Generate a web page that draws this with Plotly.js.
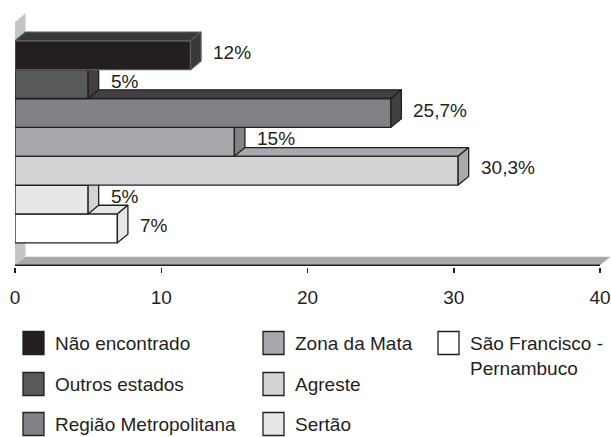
<!DOCTYPE html>
<html><head><meta charset="utf-8">
<script src="https://cdn.plot.ly/plotly-3.0.1.min.js"></script>
<style>html,body{margin:0;padding:0;background:#fff;}#chart{width:611px;height:437px;}</style>
</head><body><div id="chart"></div>
<script>
// ---- data ----
const categories = ['Não encontrado', 'Outros estados', 'Região Metropolitana', 'Zona da Mata', 'Agreste', 'Sertão', 'São Francisco - Pernambuco'];
const legendNames = ['Não encontrado', 'Outros estados', 'Região Metropolitana', 'Zona da Mata', 'Agreste', 'Sertão', 'São Francisco -<br>Pernambuco'];
const values = [12, 5, 25.7, 15, 30.3, 5, 7];
const valueLabels = ['12%', '5%', '25,7%', '15%', '30,3%', '5%', '7%'];
const xTickValues = [0, 10, 20, 30, 40];

// ---- style ----
const frontColors = ['#231f20', '#58595b', '#808285', '#a7a9ac', '#d1d3d4', '#e6e7e8', '#ffffff'];
const sideColors  = ['#39373a', '#414042', '#414042', '#808285', '#a7a9ac', '#d1d3d4', '#e6e7e8'];
const edgeColors  = ['#58595b', '#231f20', '#231f20', '#231f20', '#231f20', '#231f20', '#231f20'];
const FONT = 'Arial';
const W = 611, H = 437, ML = 15, MR = 0, MT = 10, MB = 170;
const dx = 0.72, dy = 0.3;           // 3D depth in axis units
const xMax = 40;
const floorY = -1.28;                // front floor line (y units)
const yRange = [-1.339, 7.566];
const xRange = [0, 40.752];
const wallTop = 7.15;

const n = values.length;
const traces = [];
const noHover = {hoverinfo: 'skip', showlegend: false};

// back wall + floor
traces.push(Object.assign({type: 'scatter', mode: 'lines', fill: 'toself',
  x: [0, xMax, xMax + dx, dx, 0], y: [floorY, floorY, floorY + dy, floorY + dy, floorY],
  fillcolor: '#a7a9ac', line: {width: 0}}, noHover));
traces.push(Object.assign({type: 'scatter', mode: 'lines', fill: 'toself',
  x: [0, dx, dx, 0, 0], y: [floorY, floorY + dy, wallTop + dy, wallTop, floorY],
  fillcolor: '#c2c4c6', line: {width: 0}}, noHover));

// bars, bottom row first so upper rows cover hidden faces
for (let k = n - 1; k >= 0; k--) {
  const v = values[k];
  const yc = n - 1 - k;
  const y0 = yc - 0.5, y1 = yc + 0.5;
  const edge = {color: edgeColors[k], width: 1.3};
  traces.push(Object.assign({type: 'scatter', mode: 'lines', fill: 'toself', name: categories[k],
    x: [0, v, v, 0, 0], y: [y0, y0, y1, y1, y0], fillcolor: frontColors[k], line: edge}, noHover));
  traces.push(Object.assign({type: 'scatter', mode: 'lines', fill: 'toself',
    x: [0, v, v + dx, dx, 0], y: [y1, y1, y1 + dy, y1 + dy, y1], fillcolor: sideColors[k], line: edge}, noHover));
  traces.push(Object.assign({type: 'scatter', mode: 'lines', fill: 'toself',
    x: [v, v + dx, v + dx, v, v], y: [y1, y1 + dy, y0 + dy, y0, y1], fillcolor: sideColors[k], line: edge}, noHover));
}

const annotations = [];
for (let k = 0; k < n; k++) {
  annotations.push({x: values[k] + dx, y: n - 1 - k + 0.1, xref: 'x', yref: 'y', text: valueLabels[k],
    showarrow: false, xanchor: 'left', yanchor: 'middle', xshift: 10,
    font: {family: FONT, size: 19, color: '#231f20'}});
}

// manual legend (3 columns)
const pw = W - ML - MR, ph = H - MT - MB;
const px2x = p => (p - ML) / pw;
const py2y = p => (H - MB - p) / ph;
const colX = [23, 263, 438];
const rowY = [343, 384, 424];
const legendSlots = [[0, 0], [0, 1], [0, 2], [1, 0], [1, 1], [1, 2], [2, 0]];
const shapes = [];
for (let k = 0; k < n; k++) {
  const [c, r] = legendSlots[k];
  const sx = colX[c], sy = rowY[r];
  shapes.push({type: 'rect', xref: 'paper', yref: 'paper',
    x0: px2x(sx), x1: px2x(sx + 21), y0: py2y(sy - 11.5), y1: py2y(sy + 11.5),
    fillcolor: frontColors[k], line: {color: '#231f20', width: 1.3}});
  const multi = legendNames[k].indexOf('<br>') >= 0;
  annotations.push({xref: 'paper', yref: 'paper', x: px2x(sx + 30), y: py2y(multi ? sy - 12 : sy),
    text: legendNames[k], showarrow: false, xanchor: 'left', yanchor: multi ? 'top' : 'middle', align: 'left',
    font: {family: FONT, size: 19, color: '#231f20'}});
}
// axis base line
shapes.push({type: 'line', xref: 'x', yref: 'y', x0: 0, x1: xMax, y0: floorY, y1: floorY,
  line: {color: '#231f20', width: 1.5}});

const layout = {
  width: W, height: H, margin: {l: ML, r: MR, t: MT, b: MB, pad: 0},
  paper_bgcolor: '#fff', plot_bgcolor: '#fff', showlegend: false,
  font: {family: FONT, size: 19, color: '#231f20'},
  xaxis: {range: xRange, tickvals: xTickValues, ticktext: xTickValues.map(String), ticks: 'outside', ticklen: 5,
    tickwidth: 1.5, tickcolor: '#231f20', showgrid: false, zeroline: false, showline: false,
    ticklabeloverflow: 'allow',
    tickfont: {family: FONT, size: 19, color: '#231f20'}, ticklabelstandoff: 8, fixedrange: true},
  yaxis: {range: yRange, showgrid: false, zeroline: false, showline: false, showticklabels: false, ticks: '', fixedrange: true},
  shapes: shapes, annotations: annotations
};
Plotly.newPlot('chart', traces, layout, {staticPlot: true, displayModeBar: false});
</script></body></html>
